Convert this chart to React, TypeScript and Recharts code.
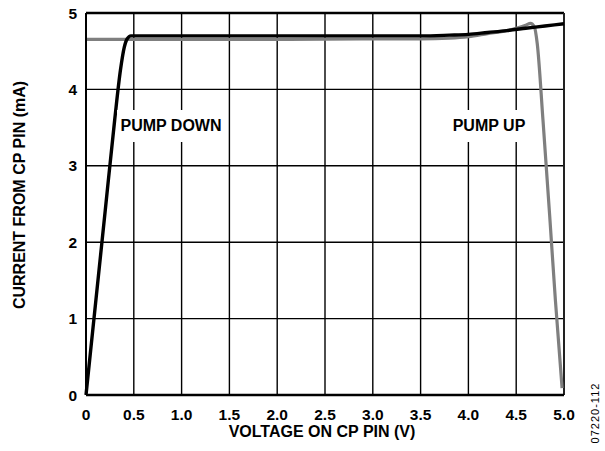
import React from 'react';
import { LineChart, Line, XAxis, YAxis, CartesianGrid, ReferenceLine } from 'recharts';

const xTicks = [0, 0.5, 1, 1.5, 2, 2.5, 3, 3.5, 4, 4.5, 5];
const yTicks = [0, 1, 2, 3, 4, 5];

// pump down (black)
const pumpDownV = [0, 0.1, 0.2, 0.3, 0.36, 0.4, 0.43, 0.47, 0.5, 1, 2, 3, 3.5, 3.8, 4.0, 4.2, 4.4, 4.6, 4.8, 5.0];
const pumpDownI = [0, 1.2, 2.4, 3.6, 4.25, 4.55, 4.66, 4.7, 4.7, 4.7, 4.7, 4.7, 4.7, 4.71, 4.72, 4.745, 4.77, 4.8, 4.83, 4.86];

// pump up (gray)
const pumpUpV = [0, 1, 2, 3, 3.5, 3.8, 4.0, 4.2, 4.4, 4.5, 4.6, 4.65, 4.69, 4.72, 4.78, 4.85, 4.91, 4.98];
const pumpUpI = [4.655, 4.655, 4.655, 4.66, 4.66, 4.67, 4.69, 4.73, 4.77, 4.8, 4.84, 4.865, 4.82, 4.6, 3.6, 2.35, 1.24, 0.09];

const pumpDown = pumpDownV.map((v, i) => ({ v, i: pumpDownI[i] }));
const pumpUp = pumpUpV.map((v, i) => ({ v, i: pumpUpI[i] }));

const FONT = '"Liberation Sans", Arial, sans-serif';
const tickStyle = { fontSize: 15.5, fontWeight: 700, fill: '#000', fontFamily: FONT };

const boxStyle: React.CSSProperties = {
    position: 'absolute',
    top: 110,
    height: 32,
    lineHeight: '32px',
    background: '#fff',
    textAlign: 'center',
    fontFamily: FONT,
    fontWeight: 700,
    fontSize: 16,
    color: '#000',
    whiteSpace: 'nowrap',
};

const titleStyle: React.CSSProperties = {
    position: 'absolute',
    height: 18,
    lineHeight: '18px',
    textAlign: 'center',
    fontFamily: FONT,
    fontWeight: 700,
    fontSize: 16,
    whiteSpace: 'nowrap',
    color: '#000',
};

export default function App() {
    return (
        <div style={{ position: 'absolute', left: 0, top: 0, width: 605, height: 451, background: '#fff' }}>
            <LineChart width={605} height={451} margin={{ top: 13, right: 41, bottom: 0, left: 0 }}>
                <CartesianGrid stroke="#000" strokeWidth={1.4} />
                <XAxis
                    dataKey="v"
                    type="number"
                    domain={[0, 5]}
                    ticks={xTicks}
                    interval={0}
                    height={56}
                    tickLine={false}
                    tickSize={6}
                    tickMargin={8}
                    axisLine={{ stroke: '#000', strokeWidth: 2.5 }}
                    tick={tickStyle}
                    tickFormatter={(v: number) => (v === 0 ? '0' : v.toFixed(1))}
                    allowDuplicatedCategory={false}
                />
                <YAxis
                    type="number"
                    domain={[0, 5]}
                    ticks={yTicks}
                    interval={0}
                    width={86}
                    tickLine={false}
                    tickSize={6}
                    tickMargin={3}
                    axisLine={{ stroke: '#000', strokeWidth: 2 }}
                    tick={tickStyle}
                />
                <ReferenceLine y={5} stroke="#000" strokeWidth={2.5} />
                <ReferenceLine x={5} stroke="#222" strokeWidth={2} />
                <Line data={pumpUp} dataKey="i" type="monotone" stroke="#7f7f7f" strokeWidth={3.2} dot={false} isAnimationActive={false} />
                <Line data={pumpDown} dataKey="i" type="monotone" stroke="#000" strokeWidth={3.4} dot={false} isAnimationActive={false} />
            </LineChart>
            <div style={{ ...boxStyle, left: 117, width: 108 }}>PUMP DOWN</div>
            <div style={{ ...boxStyle, left: 452, width: 74 }}>PUMP UP</div>
            <div style={{ ...titleStyle, left: 222, top: 423, width: 200 }}>VOLTAGE ON CP PIN (V)</div>
            <div style={{ ...titleStyle, left: 19.5 - 150, top: 195 - 9, width: 300, transform: 'rotate(-90deg)' }}>
                CURRENT FROM CP PIN (mA)
            </div>
            <div
                style={{
                    position: 'absolute', left: 595 - 50, top: 413 - 7, width: 100, height: 14, lineHeight: '14px',
                    textAlign: 'center', fontFamily: FONT, fontSize: 11, letterSpacing: 1, whiteSpace: 'nowrap',
                    transform: 'rotate(-90deg)', color: '#000',
                }}
            >
                07220-112
            </div>
        </div>
    );
}
